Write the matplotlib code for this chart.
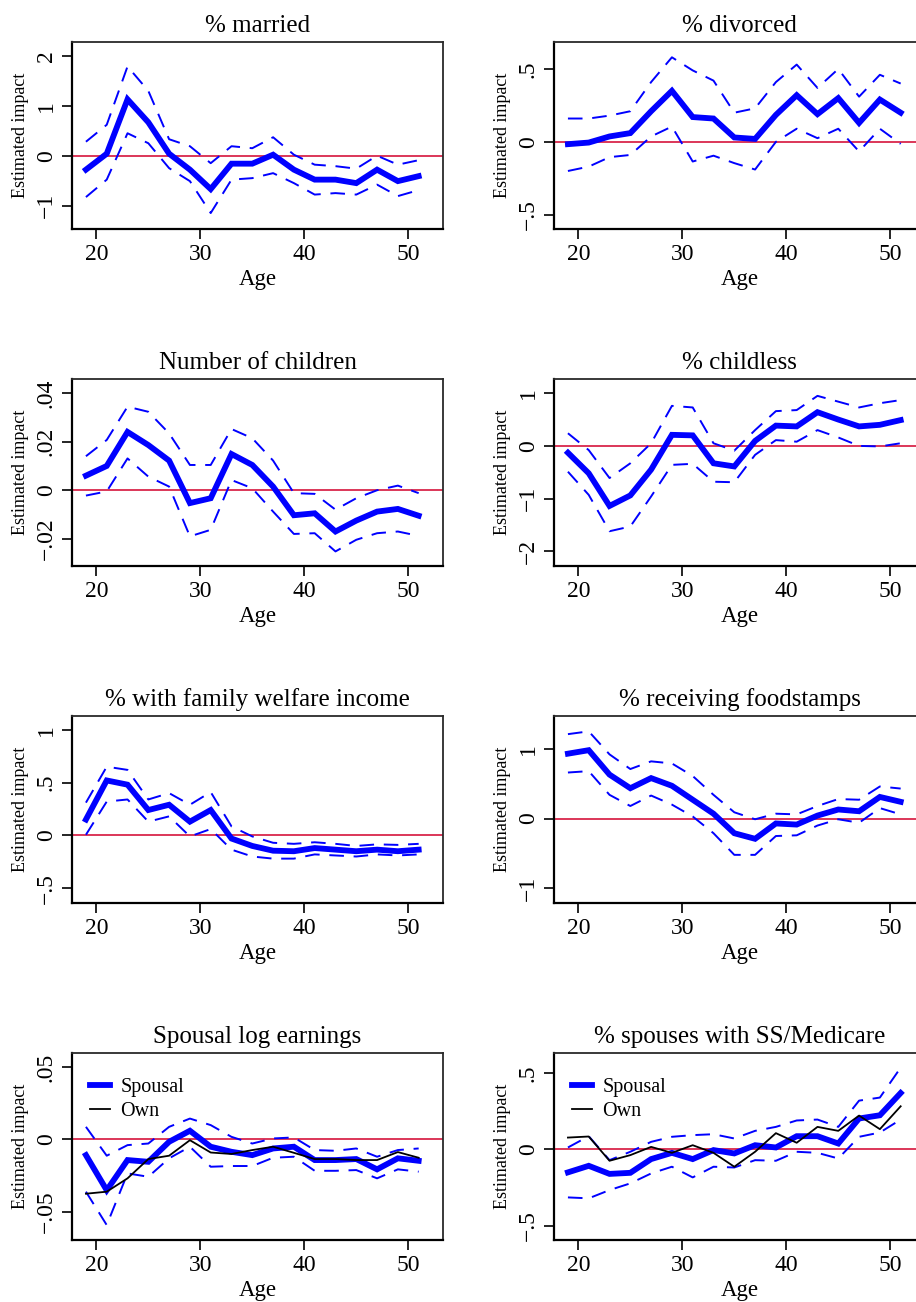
import matplotlib
matplotlib.use("Agg")
from matplotlib import pyplot as plt

plt.rcParams['font.family'] = ['Liberation Serif', 'DejaVu Serif']

ages = [19, 21, 23, 25, 27, 29, 31, 33, 35, 37, 39, 41, 43, 45, 47, 49, 51]

# % married
married = [-0.28, 0.04, 1.13, 0.67, 0.04, -0.28, -0.67, -0.16, -0.16, 0.02, -0.28, -0.48, -0.48, -0.55, -0.28, -0.51, -0.41]
married_hi = [0.28, 0.62, 1.79, 1.3, 0.33, 0.19, -0.15, 0.19, 0.15, 0.37, 0.02, -0.18, -0.21, -0.26, 0.0, -0.18, -0.09]
married_lo = [-0.83, -0.48, 0.45, 0.25, -0.25, -0.51, -1.15, -0.48, -0.45, -0.35, -0.55, -0.78, -0.75, -0.78, -0.58, -0.81, -0.69]

# % divorced
divorced = [-0.016, -0.005, 0.037, 0.06, 0.21, 0.35, 0.17, 0.16, 0.03, 0.02, 0.185, 0.32, 0.19, 0.30, 0.13, 0.29, 0.20]
divorced_hi = [0.16, 0.16, 0.18, 0.21, 0.41, 0.58, 0.49, 0.42, 0.2, 0.23, 0.41, 0.53, 0.37, 0.5, 0.31, 0.46, 0.40]
divorced_lo = [-0.2, -0.17, -0.105, -0.09, 0.037, 0.105, -0.135, -0.095, -0.146, -0.19, 0.0, 0.09, 0.025, 0.09, -0.066, 0.09, -0.014]

# number of children
kids = [0.006, 0.010, 0.024, 0.0186, 0.0122, -0.0053, -0.0033, 0.0149, 0.0104, 0.0015, -0.0103, -0.0095, -0.017, -0.0125, -0.0088, -0.0077, -0.0105]
kids_hi = [0.014, 0.0207, 0.0344, 0.0323, 0.0234, 0.0104, 0.0104, 0.0252, 0.0214, 0.0122, -0.0012, -0.0015, -0.008, -0.0033, 0.0, 0.0019, -0.0012]
kids_lo = [-0.0022, -0.0005, 0.0131, 0.0056, 0.0015, -0.019, -0.0163, 0.0042, 0.0008, -0.0088, -0.018, -0.0177, -0.0252, -0.0204, -0.0177, -0.017, -0.0188]

# % childless
childless = [-0.13, -0.52, -1.14, -0.94, -0.45, 0.21, 0.2, -0.33, -0.39, 0.095, 0.385, 0.37, 0.64, 0.5, 0.37, 0.4, 0.49]
childless_hi = [0.24, -0.08, -0.61, -0.33, 0.05, 0.76, 0.73, 0.05, -0.09, 0.30, 0.66, 0.68, 0.95, 0.84, 0.73, 0.81, 0.87]
childless_lo = [-0.49, -0.93, -1.62, -1.53, -0.96, -0.36, -0.34, -0.68, -0.69, -0.17, 0.11, 0.08, 0.30, 0.16, 0.0, -0.01, 0.05]

# % with family welfare income
welfare = [0.15, 0.52, 0.48, 0.24, 0.29, 0.13, 0.24, -0.03, -0.10, -0.145, -0.15, -0.12, -0.135, -0.15, -0.135, -0.15, -0.135]
welfare_hi = [0.31, 0.65, 0.62, 0.34, 0.40, 0.29, 0.41, 0.085, -0.01, -0.07, -0.08, -0.065, -0.08, -0.1, -0.085, -0.09, -0.08]
welfare_lo = [0.006, 0.32, 0.34, 0.13, 0.18, -0.01, 0.06, -0.135, -0.2, -0.22, -0.22, -0.18, -0.19, -0.2, -0.18, -0.19, -0.18]

# % receiving foodstamps
food = [0.93, 0.98, 0.63, 0.435, 0.58, 0.47, 0.27, 0.07, -0.21, -0.29, -0.07, -0.086, 0.043, 0.13, 0.105, 0.31, 0.24]
food_hi = [1.21, 1.25, 0.92, 0.71, 0.82, 0.79, 0.61, 0.34, 0.09, -0.01, 0.07, 0.06, 0.18, 0.28, 0.27, 0.46, 0.43]
food_lo = [0.66, 0.68, 0.34, 0.18, 0.33, 0.2, 0.03, -0.21, -0.52, -0.52, -0.25, -0.24, -0.10, -0.01, -0.06, 0.15, 0.06]

# spousal log earnings
sp_earn = [-0.0108, -0.035, -0.0142, -0.0154, -0.0016, 0.006, -0.005, -0.0085, -0.0108, -0.0062, -0.005, -0.0142, -0.0142, -0.0135, -0.0206, -0.013, -0.0147]
sp_earn_hi = [0.0087, -0.0112, -0.0039, -0.0028, 0.0087, 0.0144, 0.0099, 0.0018, -0.0028, 0.0007, 0.0014, -0.0073, -0.0078, -0.0062, -0.0119, -0.0073, -0.0062]
sp_earn_lo = [-0.036, -0.059, -0.0234, -0.0257, -0.013, -0.005, -0.0188, -0.0183, -0.0183, -0.0126, -0.0119, -0.0216, -0.0216, -0.0211, -0.0268, -0.0206, -0.0222]
own_earn = [-0.0374, -0.036, -0.0268, -0.0135, -0.0112, -0.0005, -0.009, -0.010, -0.0073, -0.005, -0.0092, -0.0135, -0.0135, -0.0142, -0.0142, -0.0087, -0.0126]

# % spouses with SS/Medicare
ss = [-0.15, -0.107, -0.16, -0.153, -0.063, -0.022, -0.063, -0.004, -0.026, 0.028, 0.013, 0.087, 0.087, 0.039, 0.203, 0.224, 0.37]
ss_hi = [0.013, 0.087, -0.07, -0.015, 0.05, 0.083, 0.094, 0.1, 0.072, 0.122, 0.148, 0.19, 0.196, 0.148, 0.32, 0.34, 0.536]
ss_lo = [-0.314, -0.32, -0.266, -0.222, -0.157, -0.113, -0.183, -0.113, -0.118, -0.07, -0.074, -0.015, -0.022, -0.059, 0.083, 0.111, 0.196]
own_ss = [0.078, 0.085, -0.074, -0.037, 0.017, -0.022, 0.028, -0.022, -0.113, -0.015, 0.107, 0.044, 0.148, 0.122, 0.222, 0.133, 0.283]

titles = ["% married", "% divorced", "Number of children", "% childless",
          "% with family welfare income", "% receiving foodstamps",
          "Spousal log earnings", "% spouses with SS/Medicare"]
series = [(married, married_hi, married_lo, None),
          (divorced, divorced_hi, divorced_lo, None),
          (kids, kids_hi, kids_lo, None),
          (childless, childless_hi, childless_lo, None),
          (welfare, welfare_hi, welfare_lo, None),
          (food, food_hi, food_lo, None),
          (sp_earn, sp_earn_hi, sp_earn_lo, own_earn),
          (ss, ss_hi, ss_lo, own_ss)]
yticks = [[-1, 0, 1, 2], [-.5, 0, .5], [-.02, 0, .02, .04], [-2, -1, 0, 1],
          [-.5, 0, .5, 1], [-1, 0, 1], [-.05, 0, .05], [-.5, 0, .5]]
ytick_labels = [["\u22121", "0", "1", "2"], ["\u2212.5", "0", ".5"],
                ["\u2212.02", "0", ".02", ".04"], ["\u22122", "\u22121", "0", "1"],
                ["\u2212.5", "0", ".5", "1"], ["\u22121", "0", "1"],
                ["\u2212.05", "0", ".05"], ["\u2212.5", "0", ".5"]]
ylims = [(-1.47, 2.28), (-0.598, 0.685), (-0.0312, 0.0458), (-2.28, 1.27),
         (-0.64, 1.13), (-1.21, 1.47), (-0.0693, 0.0596), (-0.593, 0.632)]

W, H = 916, 1302
fig = plt.figure(figsize=(W / 100, H / 100), dpi=100)

lefts = [72, 554]
tops = [42, 379, 716, 1053]
aw, ah = 371, 187
dash = (0, (7.5, 5))

for i in range(8):
    r, c = divmod(i, 2)
    ax = fig.add_axes([lefts[c] / W, 1 - (tops[r] + ah) / H, aw / W, ah / H])
    main, hi, lo, own = series[i]
    ax.axhline(0, color='#d6143c', lw=1.2, zorder=1)
    ax.plot(ages, hi, color='blue', lw=1.4, ls=dash, zorder=2)
    ax.plot(ages, lo, color='blue', lw=1.4, ls=dash, zorder=2)
    ax.plot(ages, main, color='blue', lw=4.2, solid_joinstyle='miter', label='Spousal', zorder=3)
    if own is not None:
        ax.plot(ages, own, color='black', lw=1.3, label='Own', zorder=4)
        ax.legend(loc='upper left', frameon=False, fontsize=14.5,
                  handlelength=1.0, handletextpad=0.5, labelspacing=0.25,
                  borderaxespad=0.5, bbox_to_anchor=(0.0, 0.965))
    ax.set_xlim(17.66, 53.34)
    ax.set_ylim(*ylims[i])
    ax.set_xticks([20, 30, 40, 50])
    ax.set_xticklabels(["20", "30", "40", "50"], fontsize=17)
    ax.set_yticks(yticks[i])
    ax.set_yticklabels(ytick_labels[i], fontsize=17, rotation=90, va='center')
    ax.tick_params(direction='out', length=7, width=1.2, pad=4)
    ax.set_title(titles[i], fontsize=18, pad=7)
    ax.set_xlabel("Age", fontsize=16.5, labelpad=3)
    ax.set_ylabel("Estimated impact", fontsize=13, labelpad=5)
    for s in ['left', 'bottom']:
        ax.spines[s].set_linewidth(1.6)
    for s in ['top', 'right']:
        ax.spines[s].set_linewidth(1.3)
        ax.spines[s].set_color('#2a2a2a')

fig.savefig("out.png", dpi=100)
